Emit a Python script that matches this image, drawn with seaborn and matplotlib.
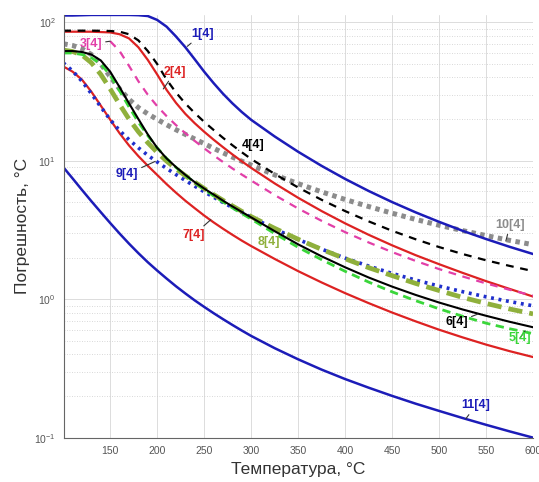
import numpy as np
import pandas as pd
import seaborn as sns
import matplotlib.pyplot as plt
from matplotlib.ticker import LogLocator, NullFormatter

# Temperature grid (deg C) and error curves (deg C)
temp = [100, 110, 120, 130, 140, 150, 160, 170, 180, 190, 200, 210, 220, 230, 240,
        250, 260, 270, 280, 290, 300, 325, 350, 375, 400, 425, 450, 475, 500, 525,
        550, 575, 600]

c1 = [112, 112, 112.5, 113, 113, 113, 113, 113, 112.5, 111, 104, 93, 79, 66, 54,
      44, 36.4, 30.5, 26.0, 22.5, 19.75, 14.98, 11.61, 9.18, 7.39, 6.05, 5.03, 4.24, 3.62, 3.12,
      2.72, 2.39, 2.12]
c2 = [85.5, 85.5, 85.5, 85.5, 85, 84.5, 82, 76.5, 66, 53.5, 42, 32.5, 26.2, 21.8, 18.65,
      16.2, 14.2, 12.54, 11.12, 9.91, 8.88, 6.86, 5.40, 4.33, 3.53, 2.92, 2.45, 2.08, 1.79, 1.55,
      1.35, 1.187, 1.045]
c4 = [87, 87, 87, 87, 86.8, 86.5, 85.5, 82, 74, 62, 50, 38.6, 31.1, 25.9, 22.1,
      19.1, 16.7, 14.65, 12.95, 11.52, 10.3, 8.03, 6.41, 5.22, 4.33, 3.65, 3.12, 2.71, 2.38, 2.12,
      1.91, 1.74, 1.595]
c10 = [70, 68, 64.5, 58.5, 50, 40.5, 33, 27.8, 24.2, 21.8, 19.9, 18.2, 16.75, 15.5, 14.35,
       13.3, 12.3, 11.42, 10.63, 9.93, 9.3, 7.91, 6.83, 5.96, 5.25, 4.67, 4.18, 3.77, 3.42, 3.13,
       2.88, 2.66, 2.475]
c6 = [62, 62, 61, 58.5, 53, 44, 34, 26, 20, 15.5, 12.4, 10.4, 9.0, 7.9, 7.0,
      6.3, 5.7, 5.15, 4.68, 4.27, 3.9, 3.10, 2.49, 2.04, 1.70, 1.435, 1.233, 1.074, 0.946, 0.843,
      0.759, 0.687, 0.627]
c5 = [60, 60, 58.5, 55.5, 50, 41.5, 32, 24.5, 19, 15.2, 12.4, 10.4, 8.95, 7.85, 6.95,
      6.2, 5.58, 5.04, 4.57, 4.16, 3.79, 2.98, 2.37, 1.93, 1.59, 1.33, 1.13, 0.976, 0.852, 0.753,
      0.671, 0.612, 0.564]
c8 = [63, 61.5, 58, 51, 42, 33, 25.5, 20, 16.2, 13.5, 11.5, 9.95, 8.75, 7.8, 7.0,
      6.3, 5.7, 5.18, 4.72, 4.31, 3.95, 3.25, 2.71, 2.29, 1.96, 1.69, 1.48, 1.30, 1.155, 1.03,
      0.932, 0.85, 0.783]
c9 = [51, 44.5, 37.5, 30.5, 24.5, 19.8, 16.5, 14.2, 12.4, 10.95, 9.8, 8.8, 7.95, 7.2, 6.55,
      5.97, 5.46, 5.0, 4.6, 4.24, 3.92, 3.22, 2.70, 2.30, 1.98, 1.735, 1.536, 1.375, 1.243, 1.133,
      1.04, 0.962, 0.896]
c7 = [48, 44, 38.5, 31.5, 25, 19.8, 15.8, 12.9, 10.8, 9.2, 7.9, 6.78, 5.88, 5.14, 4.54,
      4.02, 3.59, 3.23, 2.92, 2.65, 2.42, 1.954, 1.595, 1.321, 1.106, 0.937, 0.801, 0.692, 0.602, 0.530,
      0.470, 0.4215, 0.382]
c11 = [9.0, 7.45, 6.15, 5.1, 4.25, 3.55, 2.98, 2.52, 2.15, 1.85, 1.61, 1.41, 1.24, 1.1, 0.98,
       0.88, 0.793, 0.718, 0.652, 0.594, 0.543, 0.443, 0.368, 0.310, 0.265, 0.2296, 0.2003, 0.176, 0.156, 0.1386,
       0.1238, 0.111, 0.1]

# curve 3 starts later
temp3 = [150, 160, 170, 180, 190, 200, 210, 220, 230, 240, 250, 260, 270, 280, 290,
         300, 325, 350, 375, 400, 425, 450, 475, 500, 525, 550, 575, 600]
c3 = [73, 62, 48.5, 37.5, 30, 24.8, 21.0, 18.1, 15.8, 13.9, 12.3, 10.95, 9.8, 8.8, 7.95,
      7.2, 5.65, 4.52, 3.68, 3.05, 2.57, 2.19, 1.89, 1.65, 1.46, 1.30, 1.17, 1.06]

blue = '#1c1cb8'
red = '#dd2222'
magenta = '#e23fa8'
gray = '#8c8c8c'
green = '#3ad63a'
olive = '#8fb03c'
blue_dot = '#1f2fcc'

sns.set_theme(style='white')
plt.rcParams['font.family'] = ['Liberation Sans', 'DejaVu Sans']
plt.rcParams['mathtext.fontset'] = 'custom'
plt.rcParams['mathtext.rm'] = 'Liberation Sans'

fig = plt.figure(figsize=(5.39, 4.82), dpi=100)
ax = fig.add_axes([0.119, 0.092, 0.870, 0.877])

# curves, back to front
sns.lineplot(x=temp, y=c11, ax=ax, color=blue, lw=1.8)
sns.lineplot(x=temp, y=c7, ax=ax, color=red, lw=1.6)
sns.lineplot(x=temp, y=c10, ax=ax, color=gray, lw=3.6, linestyle=(0, (0.9, 0.9)))
sns.lineplot(x=temp, y=c1, ax=ax, color=blue, lw=1.8)
sns.lineplot(x=temp, y=c2, ax=ax, color=red, lw=1.6)
sns.lineplot(x=temp, y=c4, ax=ax, color='black', lw=1.6, linestyle=(0, (3.5, 3)))
sns.lineplot(x=temp3, y=c3, ax=ax, color=magenta, lw=1.6, linestyle=(0, (3.5, 3)))
sns.lineplot(x=temp, y=c9, ax=ax, color=blue_dot, lw=2.6, linestyle=(0, (0.8, 1.3)))
sns.lineplot(x=temp, y=c8, ax=ax, color=olive, lw=3.4, linestyle=(0, (3, 1.5)))
sns.lineplot(x=temp, y=c5, ax=ax, color=green, lw=2.0, linestyle=(0, (3, 2)))
sns.lineplot(x=temp, y=c6, ax=ax, color='black', lw=1.5)

ax.set_yscale('log')
ax.set_xlim(101, 600)
ax.set_ylim(0.1, 113)
ax.set_xticks(range(150, 601, 50))
ax.yaxis.set_major_locator(LogLocator(base=10, numticks=10))
ax.yaxis.set_minor_locator(LogLocator(base=10, subs=np.arange(2, 10), numticks=20))
ax.yaxis.set_minor_formatter(NullFormatter())

ax.grid(True, which='major', color='#dcdcdc', lw=0.7)
ax.grid(True, which='minor', axis='y', color='#cccccc', lw=0.6, linestyle=(0, (1, 2)))
ax.set_axisbelow(True)

for s in ['top', 'right']:
    ax.spines[s].set_visible(False)
for s in ['left', 'bottom']:
    ax.spines[s].set_color('#666666')
    ax.spines[s].set_linewidth(0.8)

ax.tick_params(axis='both', which='major', labelsize=7.5, colors='#555555',
               direction='in', length=3, width=0.6, pad=6)
ax.tick_params(axis='y', which='minor', direction='in', length=1.5, width=0.5, colors='#777777')

ax.set_xlabel('Температура, °C', fontsize=12.5, color='#333333', labelpad=4)
ax.set_ylabel('Погрешность, °C', fontsize=12.5, color='#333333', labelpad=3)

# curve labels with leader lines
labels = [
    ('1[4]', (248, 82.5), (232, 67), blue),
    ('2[4]', (219, 43.8), (206.5, 33), red),
    ('3[4]', (129.7, 69.8), (150, 73), magenta),
    ('4[4]', (302.5, 13.0), (286.5, 11.9), 'black'),
    ('9[4]', (168, 8.0), (198, 9.9), blue),
    ('7[4]', (238.5, 2.9), (257, 3.75), red),
    ('8[4]', (318.5, 2.58), (335.5, 3.0), olive),
    ('10[4]', (575.5, 3.43), (571, 2.63), gray),
    ('6[4]', (519, 0.682), (541, 0.78), 'black'),
    ('5[4]', (586, 0.523), (591.5, 0.59), green),
    ('11[4]', (539, 0.171), (528.5, 0.137), blue),
]
for txt, pos, tip, col in labels:
    ax.annotate(txt, xy=tip, xytext=pos, ha='center', va='center',
                fontsize=9, fontweight='bold', color=col,
                arrowprops=dict(arrowstyle='-', color='#333333', lw=0.8,
                                shrinkA=0, shrinkB=0))

fig.savefig('out.png', dpi=100)
